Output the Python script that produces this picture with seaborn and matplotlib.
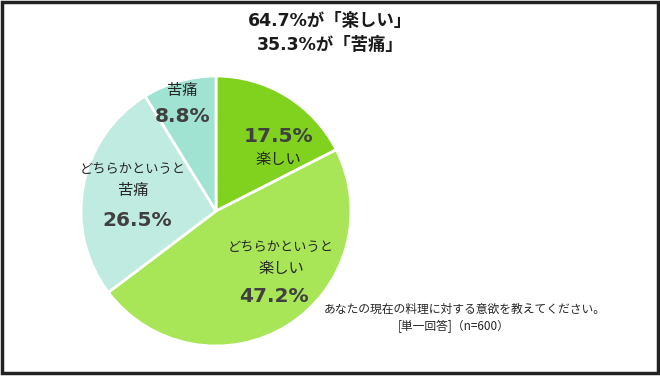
import matplotlib
matplotlib.use("Agg")
import matplotlib.pyplot as plt
import matplotlib.patches as mpatches
import seaborn as sns

categories = ["楽しい", "どちらかというと楽しい", "どちらかというと苦痛", "苦痛"]
values = [17.5, 47.2, 26.5, 8.8]
colors = ["#80D21E", "#A8E658", "#C0EBE0", "#A0E3D2"]
title_lines = ["64.7%が「楽しい」", "35.3%が「苦痛」"]
note_lines = ["あなたの現在の料理に対する意欲を教えてください。", "[単一回答]（n=600）"]

sns.set_theme(style="white")
plt.rcParams['font.family'] = ['Noto Sans CJK JP', 'DejaVu Sans']

W, H = 660, 378
fig = plt.figure(figsize=(W / 100, H / 100), dpi=100)
fig.patch.set_facecolor("white")

cx, cy, r = 216, 211, 135
ax = fig.add_axes([(cx - r) / W, (H - cy - r) / H, 2 * r / W, 2 * r / H])
ax.pie(values, colors=sns.color_palette(colors), startangle=90, counterclock=False,
       radius=1.0, wedgeprops=dict(edgecolor="white", linewidth=2))
ax.set_xlim(-1, 1)
ax.set_ylim(-1, 1)
ax.set_aspect("equal")
ax.axis("off")

LATIN_FIRST = ['DejaVu Sans', 'Noto Sans CJK JP']
CJK_FIRST = ['Noto Sans CJK JP', 'DejaVu Sans']

def ftext(x, y, s, size, weight="normal", color="#333333", family=CJK_FIRST):
    fig.text(x / W, 1 - y / H, s, ha="center", va="center", fontsize=size,
             fontweight=weight, color=color, family=family)

# Title
ftext(330, 21, title_lines[0], 12.5, "bold", "#1a1a1a", LATIN_FIRST)
ftext(330, 45, title_lines[1], 12.5, "bold", "#1a1a1a", LATIN_FIRST)

pct = [f"{v}%" for v in values]
dark = "#404040"
lab = "#262626"
# 楽しい
ftext(278, 137, pct[0], 14.5, "bold", dark, LATIN_FIRST)
ftext(278, 159, categories[0], 11, "normal", lab)
# どちらかというと楽しい
ftext(281, 247, "どちらかというと", 9.5, "normal", lab)
ftext(281, 268, "楽しい", 11, "normal", lab)
ftext(274, 296, pct[1], 14.5, "bold", dark, LATIN_FIRST)
# どちらかというと苦痛
ftext(133, 170, "どちらかというと", 9.5, "normal", lab)
ftext(133, 190, "苦痛", 11, "normal", lab)
ftext(137, 221, pct[2], 14.5, "bold", dark, LATIN_FIRST)
# 苦痛
ftext(182, 90, categories[3], 11, "normal", lab)
ftext(183, 116, pct[3], 14.5, "bold", dark, LATIN_FIRST)

# Note
ftext(465, 309, note_lines[0], 8.5, "normal", lab)
ftext(454, 326, note_lines[1], 8.5, "normal", lab)

# Frame
rect = mpatches.Rectangle((2 / W, 5 / H), 656 / W, 371 / H, transform=fig.transFigure,
                          fill=False, edgecolor="#222222", linewidth=2.5)
fig.patches.append(rect)

fig.savefig("out.png", dpi=100)
